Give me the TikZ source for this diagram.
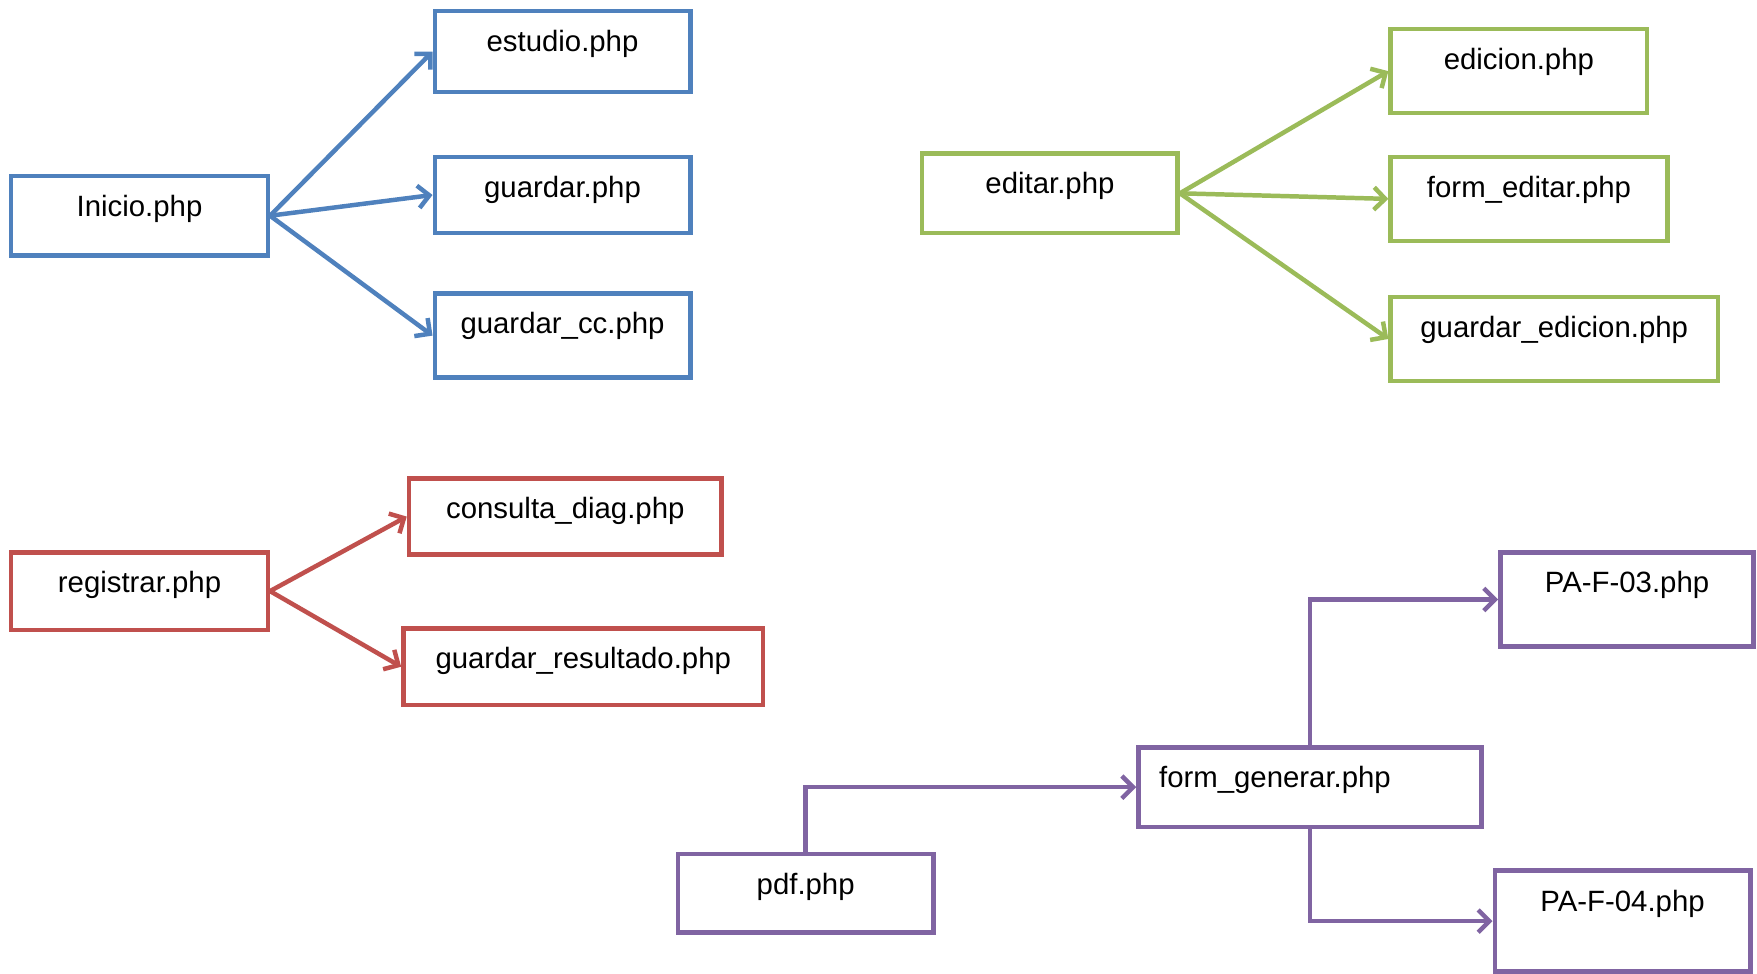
\documentclass[tikz,border=0pt]{standalone}
\usepackage{fontspec}
\setmainfont{Liberation Sans}
\usetikzlibrary{arrows.meta,fit,calc}
\definecolor{cblue}{HTML}{4F81BD}
\definecolor{cgreen}{HTML}{9BBB59}
\definecolor{cred}{HTML}{C0504D}
\definecolor{cpurple}{HTML}{8064A2}
\tikzset{
  bbox/.style={draw=#1, line width=2pt, inner sep=0pt, rectangle},
  lbl/.style={anchor=base, inner sep=0pt, font=\fontsize{13.1pt}{15pt}\selectfont, text=black},
  lblw/.style={anchor=base west, inner sep=0pt, font=\fontsize{13.1pt}{15pt}\selectfont, text=black},
  conn/.style={draw=#1, line width=2pt, -{Straight Barb[length=5pt,width=10pt]}},
}
\begin{document}
\begin{tikzpicture}[x=0.5pt,y=-0.5pt]
\useasboundingbox (0,0) rectangle (1568,869);
% blue group
\node[bbox=cblue, fit={(10,157) (239,228)}] (inicio) {};
\node[bbox=cblue, fit={(388,10) (616,82)}] (estudio) {};
\node[bbox=cblue, fit={(388,140) (616,208)}] (guardar) {};
\node[bbox=cblue, fit={(388,262) (616,337)}] (guardarcc) {};
\node[lbl] at ($(inicio.north)+(0,38)$) {Inicio.php};
\node[lbl] at ($(estudio.north)+(0,38)$) {estudio.php};
\node[lbl] at ($(guardar.north)+(0,38)$) {guardar.php};
\node[lbl] at ($(guardarcc.north)+(0,38)$) {guardar\_cc.php};
\draw[conn=cblue] (inicio.east) -- (estudio.west);
\draw[conn=cblue] (inicio.east) -- (guardar.west);
\draw[conn=cblue] (inicio.east) -- (guardarcc.west);
% green group
\node[bbox=cgreen, fit={(823,137) (1051,208)}] (editar) {};
\node[bbox=cgreen, fit={(1241,26) (1470,101)}] (edicion) {};
\node[bbox=cgreen, fit={(1241,140) (1488,215)}] (formeditar) {};
\node[bbox=cgreen, fit={(1241,265) (1533,340)}] (guardaredicion) {};
\node[lbl] at ($(editar.north)+(0,38)$) {editar.php};
\node[lbl] at ($(edicion.north)+(0,38)$) {edicion.php};
\node[lbl] at ($(formeditar.north)+(0,38)$) {form\_editar.php};
\node[lbl] at ($(guardaredicion.north)+(0,38)$) {guardar\_edicion.php};
\draw[conn=cgreen] (editar.east) -- (edicion.west);
\draw[conn=cgreen] (editar.east) -- (formeditar.west);
\draw[conn=cgreen] (editar.east) -- (guardaredicion.west);
% red group
\node[bbox=cred, fit={(10,493) (239,562)}] (registrar) {};
\node[bbox=cred, fit={(365,427) (644,495)}] (consulta) {};
\node[bbox=cred, fit={(360,561) (681,629)}] (resultado) {};
\node[lbl] at ($(registrar.north)+(0,38)$) {registrar.php};
\node[lbl] at ($(consulta.north)+(0,38)$) {consulta\_diag.php};
\node[lbl] at ($(resultado.north)+(0,38)$) {guardar\_resultado.php};
\draw[conn=cred] (registrar.east) -- (consulta.west);
\draw[conn=cred] (registrar.east) -- (resultado.west);
% purple group
\node[bbox=cpurple, fit={(605,762) (833,832)}] (pdf) {};
\node[bbox=cpurple, fit={(1016,667) (1322,738)}] (formgen) {};
\node[bbox=cpurple, fit={(1339,493) (1565,577)}] (paf3) {};
\node[bbox=cpurple, fit={(1334,777) (1562,867)}] (paf4) {};
\node[lbl] at ($(pdf.north)+(0,38)$) {pdf.php};
\node[lblw] at ($(formgen.north west)+(20,38)$) {form\_generar.php};
\node[lbl] at ($(paf3.north)+(0,38)$) {PA-F-03.php};
\node[lbl] at ($(paf4.north)+(0,38)$) {PA-F-04.php};
\draw[conn=cpurple] (pdf.north) |- (formgen.west);
\draw[conn=cpurple] (formgen.north) |- (paf3.west);
\draw[conn=cpurple] (formgen.south) |- (paf4.west);
\end{tikzpicture}
\end{document}
